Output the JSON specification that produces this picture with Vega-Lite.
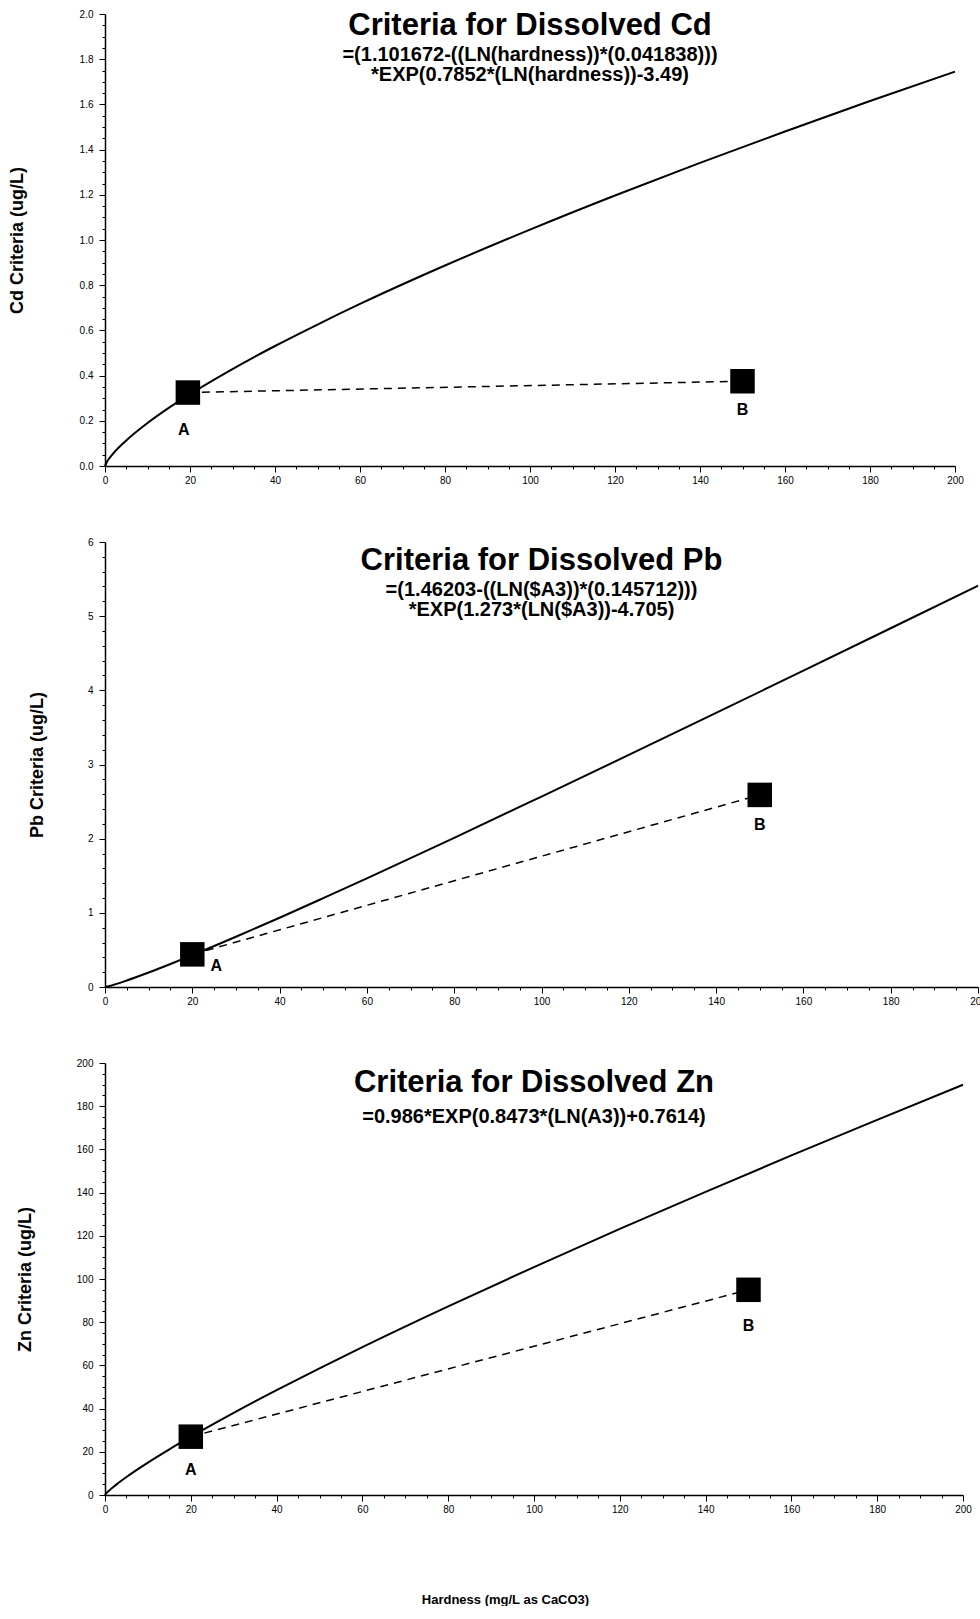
{
  "$schema": "https://vega.github.io/schema/vega-lite/v6.json",
  "background": "white",
  "padding": {"left": 8, "top": 9, "right": 0, "bottom": 0},
  "spacing": 52,
  "config": {
    "view": {"stroke": null},
    "font": "Liberation Sans",
    "axis": {
      "domainColor": "black",
      "domainWidth": 1.5,
      "tickColor": "black",
      "tickWidth": 1,
      "tickCount": 200,
      "labelColor": "black",
      "labelFont": "Liberation Sans Narrow, Liberation Sans",
      "labelFontSize": 10,
      "titleColor": "black",
      "titleFont": "Liberation Sans",
      "titleFontWeight": "bold",
      "titleFontSize": 18,
      "grid": false,
      "labelOverlap": false,
      "labelFlush": false
    },
    "title": {
      "color": "black",
      "font": "Liberation Sans",
      "fontSize": 31,
      "fontWeight": "bold",
      "anchor": "middle",
      "frame": "group",
      "subtitleColor": "black",
      "subtitleFont": "Liberation Sans",
      "subtitleFontSize": 20,
      "subtitleFontWeight": "bold",
      "subtitleLineHeight": 20,
      "subtitlePadding": 0
    }
  },
  "datasets": {
    "cd_curve": [
      {"hardness": 0, "criteria": 0},
      {"hardness": 0.5, "criteria": 0.0203},
      {"hardness": 1, "criteria": 0.034},
      {"hardness": 2, "criteria": 0.057},
      {"hardness": 5, "criteria": 0.113},
      {"hardness": 10, "criteria": 0.19},
      {"hardness": 15, "criteria": 0.257},
      {"hardness": 20, "criteria": 0.318},
      {"hardness": 30, "criteria": 0.429},
      {"hardness": 40, "criteria": 0.531},
      {"hardness": 50, "criteria": 0.626},
      {"hardness": 60, "criteria": 0.717},
      {"hardness": 80, "criteria": 0.887},
      {"hardness": 100, "criteria": 1.046},
      {"hardness": 120, "criteria": 1.197},
      {"hardness": 140, "criteria": 1.341},
      {"hardness": 160, "criteria": 1.48},
      {"hardness": 180, "criteria": 1.615},
      {"hardness": 200, "criteria": 1.745}
    ],
    "cd_samples": [
      {"site": "A", "hardness": 19.5, "criteria": 0.325},
      {"site": "B", "hardness": 150, "criteria": 0.375}
    ],
    "pb_curve": [
      {"hardness": 0, "criteria": 0},
      {"hardness": 1, "criteria": 0.0135},
      {"hardness": 2, "criteria": 0.03},
      {"hardness": 5, "criteria": 0.088},
      {"hardness": 10, "criteria": 0.195},
      {"hardness": 15, "criteria": 0.31},
      {"hardness": 20, "criteria": 0.429},
      {"hardness": 30, "criteria": 0.677},
      {"hardness": 40, "criteria": 0.934},
      {"hardness": 50, "criteria": 1.198},
      {"hardness": 60, "criteria": 1.465},
      {"hardness": 80, "criteria": 2.011},
      {"hardness": 100, "criteria": 2.568},
      {"hardness": 120, "criteria": 3.129},
      {"hardness": 140, "criteria": 3.695},
      {"hardness": 160, "criteria": 4.265},
      {"hardness": 180, "criteria": 4.837},
      {"hardness": 200, "criteria": 5.411}
    ],
    "pb_samples": [
      {"site": "A", "hardness": 20, "criteria": 0.44},
      {"site": "B", "hardness": 150, "criteria": 2.59}
    ],
    "zn_curve": [
      {"hardness": 0, "criteria": 0},
      {"hardness": 0.5, "criteria": 1.185},
      {"hardness": 1, "criteria": 2.13},
      {"hardness": 2, "criteria": 3.84},
      {"hardness": 3, "criteria": 5.41},
      {"hardness": 5, "criteria": 8.34},
      {"hardness": 10, "criteria": 15.0},
      {"hardness": 15, "criteria": 21.15},
      {"hardness": 20, "criteria": 26.99},
      {"hardness": 30, "criteria": 38.06},
      {"hardness": 40, "criteria": 48.56},
      {"hardness": 50, "criteria": 58.66},
      {"hardness": 60, "criteria": 68.47},
      {"hardness": 80, "criteria": 87.34},
      {"hardness": 100, "criteria": 105.53},
      {"hardness": 120, "criteria": 123.19},
      {"hardness": 140, "criteria": 140.34},
      {"hardness": 160, "criteria": 157.21},
      {"hardness": 180, "criteria": 173.69},
      {"hardness": 200, "criteria": 189.94}
    ],
    "zn_samples": [
      {"site": "A", "hardness": 20, "criteria": 27},
      {"site": "B", "hardness": 150, "criteria": 95}
    ]
  },
  "vconcat": [
    {
      "width": 850,
      "height": 452,
      "title": {
        "text": "Criteria for Dissolved Cd",
        "subtitle": ["=(1.101672-((LN(hardness))*(0.041838)))", "*EXP(0.7852*(LN(hardness))-3.49)"],
        "offset": -77
      },
      "layer": [
        {
          "data": {"name": "cd_curve"},
          "mark": {"type": "line", "color": "black", "strokeWidth": 2, "interpolate": "monotone"},
          "encoding": {
            "x": {
              "field": "hardness", "type": "quantitative",
              "scale": {"domain": [0, 200], "nice": false},
              "axis": {
                "title": null,
                "values": [0,5,10,15,20,25,30,35,40,45,50,55,60,65,70,75,80,85,90,95,100,105,110,115,120,125,130,135,140,145,150,155,160,165,170,175,180,185,190,195,200],
                "labelExpr": "datum.value % 20 === 0 ? format(datum.value, 'd') : ''",
                "tickSize": {"condition": {"test": "datum.value % 20 === 0", "value": 6}, "value": 3},
                "tickCount": 200,
                "labelOverlap": false,
                "labelPadding": 3
              }
            },
            "y": {
              "field": "criteria", "type": "quantitative",
              "scale": {"domain": [0, 2], "nice": false},
              "axis": {
                "title": "Cd Criteria (ug/L)",
                "values": [0,0.05,0.1,0.15,0.2,0.25,0.3,0.35,0.4,0.45,0.5,0.55,0.6,0.65,0.7,0.75,0.8,0.85,0.9,0.95,1,1.05,1.1,1.15,1.2,1.25,1.3,1.35,1.4,1.45,1.5,1.55,1.6,1.65,1.7,1.75,1.8,1.85,1.9,1.95,2],
                "labelExpr": "abs(datum.value*5 - round(datum.value*5)) < 0.001 ? format(datum.value, '.1f') : ''",
                "tickSize": {"condition": {"test": "abs(datum.value*5 - round(datum.value*5)) < 0.001", "value": 6}, "value": 3},
                "tickCount": 200,
                "labelOverlap": false,
                "labelPadding": 6,
                "minExtent": 20,
                "maxExtent": 20,
                "titlePadding": 59
              }
            }
          }
        },
        {
          "data": {"name": "cd_samples"},
          "mark": {"type": "line", "color": "black", "strokeWidth": 1.5, "strokeDash": [8, 6]},
          "encoding": {
            "x": {"field": "hardness", "type": "quantitative"},
            "y": {"field": "criteria", "type": "quantitative"}
          }
        },
        {
          "data": {"name": "cd_samples"},
          "mark": {"type": "point", "shape": "square", "size": 600, "filled": true, "color": "black", "opacity": 1},
          "encoding": {
            "x": {"field": "hardness", "type": "quantitative"},
            "y": {"field": "criteria", "type": "quantitative"}
          }
        },
        {
          "data": {"name": "cd_samples"},
          "transform": [{"filter": "datum.site === 'A'"}],
          "mark": {"type": "text", "fontSize": 16, "fontWeight": "bold", "color": "black", "dx": -4, "dy": 37},
          "encoding": {
            "x": {"field": "hardness", "type": "quantitative"},
            "y": {"field": "criteria", "type": "quantitative"},
            "text": {"field": "site"}
          }
        },
        {
          "data": {"name": "cd_samples"},
          "transform": [{"filter": "datum.site === 'B'"}],
          "mark": {"type": "text", "fontSize": 16, "fontWeight": "bold", "color": "black", "dy": 29},
          "encoding": {
            "x": {"field": "hardness", "type": "quantitative"},
            "y": {"field": "criteria", "type": "quantitative"},
            "text": {"field": "site"}
          }
        }
      ]
    },
    {
      "width": 873,
      "height": 445,
      "title": {
        "text": "Criteria for Dissolved Pb",
        "subtitle": ["=(1.46203-((LN($A3))*(0.145712)))", "*EXP(1.273*(LN($A3))-4.705)"],
        "offset": -84
      },
      "layer": [
        {
          "data": {"name": "pb_curve"},
          "mark": {"type": "line", "color": "black", "strokeWidth": 2, "interpolate": "monotone"},
          "encoding": {
            "x": {
              "field": "hardness", "type": "quantitative",
              "scale": {"domain": [0, 200], "nice": false},
              "axis": {
                "title": null,
                "values": [0,5,10,15,20,25,30,35,40,45,50,55,60,65,70,75,80,85,90,95,100,105,110,115,120,125,130,135,140,145,150,155,160,165,170,175,180,185,190,195,200],
                "labelExpr": "datum.value % 20 === 0 ? format(datum.value, 'd') : ''",
                "tickSize": {"condition": {"test": "datum.value % 20 === 0", "value": 6}, "value": 3},
                "tickCount": 200,
                "labelOverlap": false,
                "labelPadding": 3
              }
            },
            "y": {
              "field": "criteria", "type": "quantitative",
              "scale": {"domain": [0, 6], "nice": false},
              "axis": {
                "title": "Pb Criteria (ug/L)",
                "values": [0,0.2,0.4,0.6,0.8,1,1.2,1.4,1.6,1.8,2,2.2,2.4,2.6,2.8,3,3.2,3.4,3.6,3.8,4,4.2,4.4,4.6,4.8,5,5.2,5.4,5.6,5.8,6],
                "labelExpr": "abs(datum.value - round(datum.value)) < 0.001 ? format(datum.value, 'd') : ''",
                "tickSize": {"condition": {"test": "abs(datum.value - round(datum.value)) < 0.001", "value": 6}, "value": 3},
                "tickCount": 200,
                "labelOverlap": false,
                "labelPadding": 6,
                "minExtent": 20,
                "maxExtent": 20,
                "titlePadding": 39
              }
            }
          }
        },
        {
          "data": {"name": "pb_samples"},
          "mark": {"type": "line", "color": "black", "strokeWidth": 1.5, "strokeDash": [8, 6]},
          "encoding": {
            "x": {"field": "hardness", "type": "quantitative"},
            "y": {"field": "criteria", "type": "quantitative"}
          }
        },
        {
          "data": {"name": "pb_samples"},
          "mark": {"type": "point", "shape": "square", "size": 600, "filled": true, "color": "black", "opacity": 1},
          "encoding": {
            "x": {"field": "hardness", "type": "quantitative"},
            "y": {"field": "criteria", "type": "quantitative"}
          }
        },
        {
          "data": {"name": "pb_samples"},
          "transform": [{"filter": "datum.site === 'A'"}],
          "mark": {"type": "text", "fontSize": 16, "fontWeight": "bold", "color": "black", "dx": 24, "dy": 12},
          "encoding": {
            "x": {"field": "hardness", "type": "quantitative"},
            "y": {"field": "criteria", "type": "quantitative"},
            "text": {"field": "site"}
          }
        },
        {
          "data": {"name": "pb_samples"},
          "transform": [{"filter": "datum.site === 'B'"}],
          "mark": {"type": "text", "fontSize": 16, "fontWeight": "bold", "color": "black", "dy": 30},
          "encoding": {
            "x": {"field": "hardness", "type": "quantitative"},
            "y": {"field": "criteria", "type": "quantitative"},
            "text": {"field": "site"}
          }
        }
      ]
    },
    {
      "width": 858,
      "height": 432,
      "title": {
        "text": "Criteria for Dissolved Zn",
        "subtitle": ["=0.986*EXP(0.8473*(LN(A3))+0.7614)"],
        "subtitlePadding": 8,
        "offset": -70
      },
      "layer": [
        {
          "data": {"name": "zn_curve"},
          "mark": {"type": "line", "color": "black", "strokeWidth": 2, "interpolate": "monotone"},
          "encoding": {
            "x": {
              "field": "hardness", "type": "quantitative",
              "scale": {"domain": [0, 200], "nice": false},
              "axis": {
                "title": "Hardness (mg/L as CaCO3)",
                "titleFontSize": 13,
                "titleX": 400,
                "values": [0,5,10,15,20,25,30,35,40,45,50,55,60,65,70,75,80,85,90,95,100,105,110,115,120,125,130,135,140,145,150,155,160,165,170,175,180,185,190,195,200],
                "labelExpr": "datum.value % 20 === 0 ? format(datum.value, 'd') : ''",
                "tickSize": {"condition": {"test": "datum.value % 20 === 0", "value": 6}, "value": 3},
                "tickCount": 200,
                "labelOverlap": false,
                "labelPadding": 3,
                "titlePadding": 79
              }
            },
            "y": {
              "field": "criteria", "type": "quantitative",
              "scale": {"domain": [0, 200], "nice": false},
              "axis": {
                "title": "Zn Criteria (ug/L)",
                "values": [0,5,10,15,20,25,30,35,40,45,50,55,60,65,70,75,80,85,90,95,100,105,110,115,120,125,130,135,140,145,150,155,160,165,170,175,180,185,190,195,200],
                "labelExpr": "datum.value % 20 === 0 ? format(datum.value, 'd') : ''",
                "tickSize": {"condition": {"test": "datum.value % 20 === 0", "value": 6}, "value": 3},
                "tickCount": 200,
                "labelOverlap": false,
                "labelPadding": 6,
                "minExtent": 20,
                "maxExtent": 20,
                "titlePadding": 51
              }
            }
          }
        },
        {
          "data": {"name": "zn_samples"},
          "mark": {"type": "line", "color": "black", "strokeWidth": 1.5, "strokeDash": [8, 6]},
          "encoding": {
            "x": {"field": "hardness", "type": "quantitative"},
            "y": {"field": "criteria", "type": "quantitative"}
          }
        },
        {
          "data": {"name": "zn_samples"},
          "mark": {"type": "point", "shape": "square", "size": 600, "filled": true, "color": "black", "opacity": 1},
          "encoding": {
            "x": {"field": "hardness", "type": "quantitative"},
            "y": {"field": "criteria", "type": "quantitative"}
          }
        },
        {
          "data": {"name": "zn_samples"},
          "transform": [{"filter": "datum.site === 'A'"}],
          "mark": {"type": "text", "fontSize": 16, "fontWeight": "bold", "color": "black", "dy": 33},
          "encoding": {
            "x": {"field": "hardness", "type": "quantitative"},
            "y": {"field": "criteria", "type": "quantitative"},
            "text": {"field": "site"}
          }
        },
        {
          "data": {"name": "zn_samples"},
          "transform": [{"filter": "datum.site === 'B'"}],
          "mark": {"type": "text", "fontSize": 16, "fontWeight": "bold", "color": "black", "dy": 36},
          "encoding": {
            "x": {"field": "hardness", "type": "quantitative"},
            "y": {"field": "criteria", "type": "quantitative"},
            "text": {"field": "site"}
          }
        }
      ]
    }
  ]
}
